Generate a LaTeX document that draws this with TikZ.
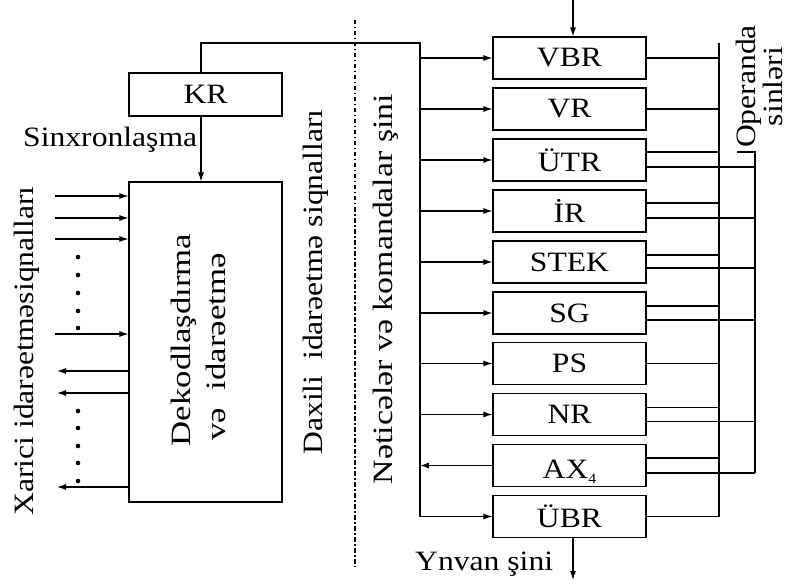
\documentclass[tikz,border=0pt]{standalone}
\usepackage{fontspec}
\setmainfont{Liberation Serif}[FakeStretch=1.13]
\usetikzlibrary{arrows.meta}
\begin{document}
\begin{tikzpicture}[x=1pt,y=-1pt,
  every node/.style={font=\fontsize{28}{32}\selectfont, inner sep=0pt},
  ln/.style={line width=1.1pt},
  reg/.style={draw, ln, minimum width=153pt, minimum height=42pt, anchor=center},
  arr/.style={ln, -{Latex[length=9pt,width=6pt]}},
  vtext/.style={rotate=90, anchor=base},
  dotmark/.style={fill=black},
]
\useasboundingbox (0,0) rectangle (791,585);

% registers
\node[reg] (VBR) at (569.5,58) {VBR};
\node[reg] (VR) at (569.5,109) {VR};
\node[reg] (UTR) at (569.5,160) {ÜTR};
\node[reg] (IR) at (569.5,211) {İR};
\node[reg] (STEK) at (569.5,262) {STEK};
\node[reg] (SG) at (569.5,313) {SG};
\node[reg] (PS) at (569.5,363.5) {PS};
\node[reg] (NR) at (569.5,414.5) {NR};
\node[reg, text height=25pt, text depth=0pt] (AX) at (569.5,465.5) {AX\smash{\raisebox{-5pt}{\fontsize{14}{14}\selectfont 4}}};
\node[reg] (UBR) at (569.5,516.5) {ÜBR};

% KR and decoder
\node[reg, minimum height=43pt] (KR) at (205.5,94.5) {KR};
\node[draw, ln, minimum width=153pt, minimum height=320pt] (DEC) at (205.5,342) {};

% left bus
\coordinate (kt) at (201,43);
\coordinate (bt) at (420,43);
\coordinate (bb) at (420,516.5);
\draw[ln] (KR.north -| kt) -- (kt) -- (bt) -- (bb);
\draw[arr] (KR.south -| kt) -- (DEC.north -| kt);
\foreach \r in {VBR,VR,UTR,IR,STEK,SG,PS,NR}{
  \draw[arr] (\r.west -| bt) -- (\r.west);
}
\draw[arr] (bb) -- (UBR.west);
\draw[arr] (AX.west) -- (AX.west -| bt);

% top / bottom arrows
\coordinate (topin) at (573,0);
\coordinate (botout) at (573,580);
\draw[arr] (topin) -- (VBR.north -| topin);
\draw[arr] (UBR.south -| botout) -- (botout);

% right buses
\coordinate (r1t) at (719,43);
\coordinate (r1b) at (719,516.5);
\coordinate (r2t) at (755,152);
\coordinate (r2b) at (755,473);
\coordinate (tick) at (737,152);
\draw[ln] (r1t) -- (r1b);
\draw[ln] (tick) -- (r2t) -- (r2b);
\foreach \r in {VBR,VR,PS,UBR}{
  \draw[ln] (\r.east) -- (\r.east -| r1t);
}
\foreach \r/\u/\d in {UTR/8/7,IR/8/7,STEK/7/6,SG/7/7,NR/7/7,AX/7.5/7.5}{
  \draw[ln] ([yshift=\u pt]\r.east) -- ([yshift=\u pt]\r.east -| r1t);
  \draw[ln] ([yshift=-\d pt]\r.east) -- ([yshift=-\d pt]\r.east -| r2t);
}

% left inputs / outputs
\foreach \y [count=\i] in {196,218,239,334}{
  \coordinate (in\i) at (55,\y);
  \draw[arr] (in\i) -- (in\i -| DEC.west);
}
\foreach \y [count=\i] in {371,393,487}{
  \coordinate (out\i) at (57,\y);
  \draw[arr] (out\i -| DEC.west) -- (out\i);
}
\foreach \y in {257,275,293,311,328,411,428,446,463,481}{
  \fill[dotmark] (78,\y) circle (2.3pt);
}

% dash-dot separator
\coordinate (dl1) at (355,20);
\coordinate (dl2) at (355,567);
\draw[line width=1.5pt, dash pattern=on 4.5pt off 2.5pt on 1.5pt off 2.5pt] (dl1) -- (dl2);

% texts
\node[anchor=base west] (sinx) at (23,147) {Sinxronlaşma};
\node[anchor=base west] (ynvan) at (415,570) {Ynvan şini};
\node[vtext] (xarici) at (33,351) {Xarici idarəetməsiqnalları};
\node[vtext] (daxili) at (322,282) {Daxili \ idarəetmə siqnalları};
\node[vtext] (netice) at (392,289) {\scalebox{1.07}[1]{Nəticələr və komandalar şini}};
\node[vtext] (dek1) at (190,340) {\scalebox{1.1}[1]{Dekodlaşdırma}};
\node[vtext] (dek2) at (225,347) {\scalebox{1.1}[1]{və \ idarəetmə}};
\node[vtext] (oper) at (755,86.5) {Operanda};
\node[vtext] (sinl) at (782,86.5) {sinləri};
\end{tikzpicture}
\end{document}
